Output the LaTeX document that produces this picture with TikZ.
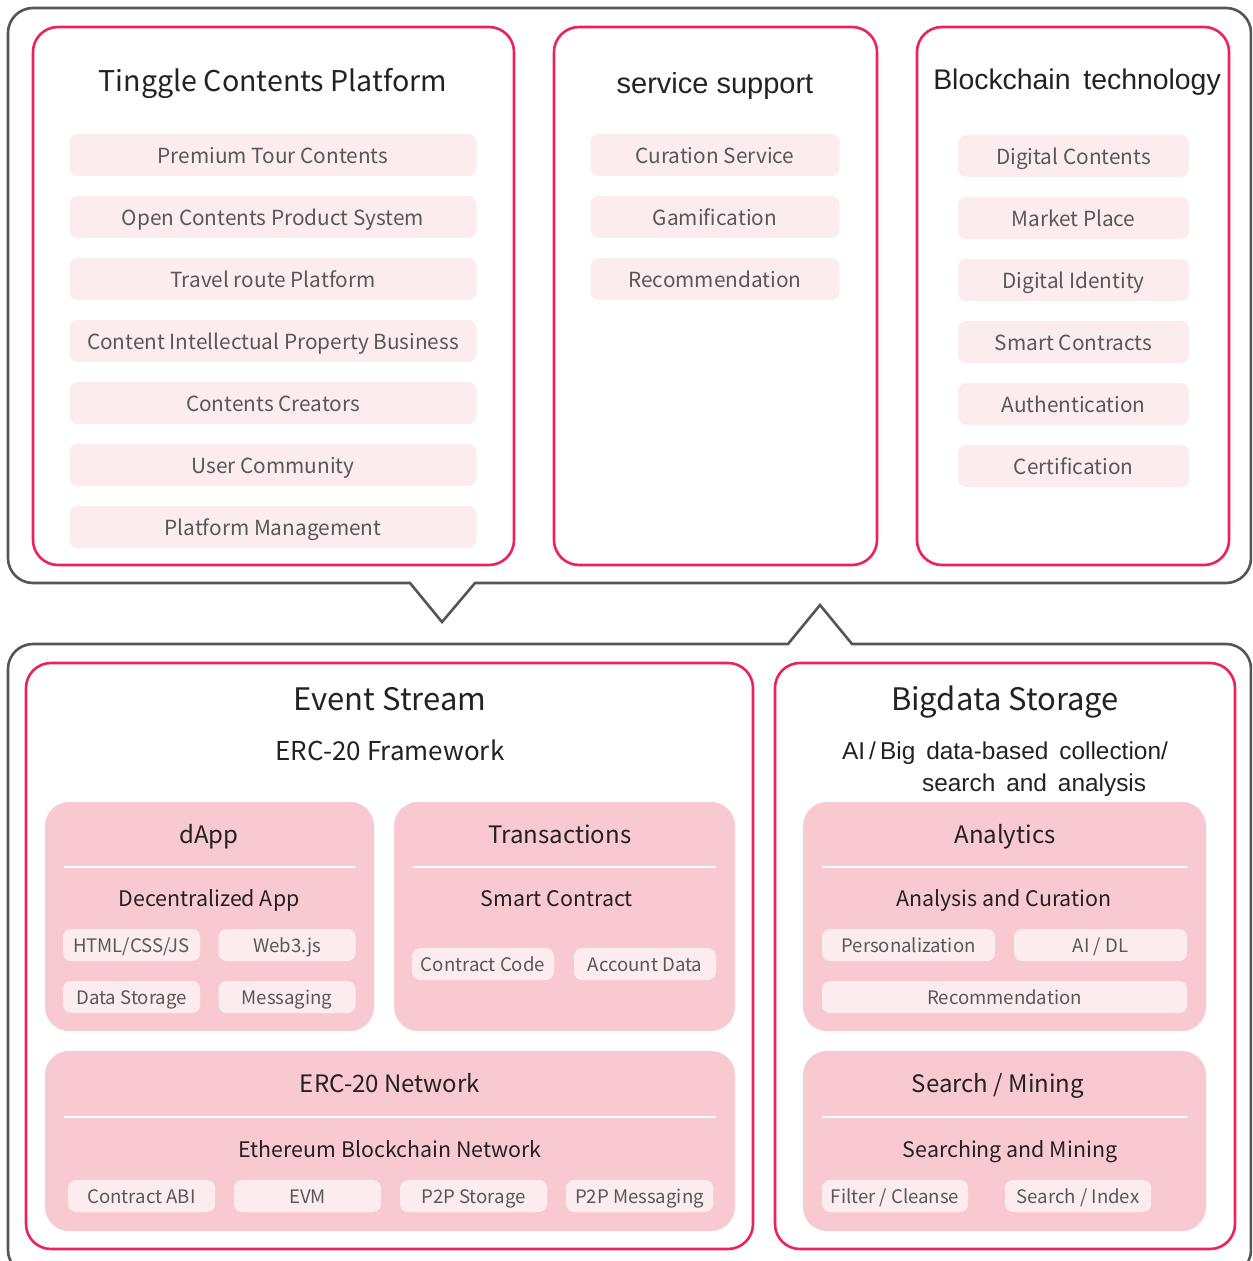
\documentclass[tikz,border=0pt]{standalone}
\usepackage{fontspec}
\setmainfont{Noto Sans CJK KR}
\newfontfamily\arialfont{Liberation Sans}
\usetikzlibrary{positioning}

\definecolor{framegray}{RGB}{85,85,85}
\definecolor{framepink}{RGB}{236,34,94}
\definecolor{blockpink}{RGB}{248,201,208}
\definecolor{itempink}{RGB}{252,236,238}
\definecolor{titletext}{RGB}{34,34,34}
\definecolor{itemtext}{RGB}{88,88,88}

\begin{document}
\begin{tikzpicture}[
    x=0.5pt, y=-0.5pt,
    node distance=10pt,
    every node/.style={outer sep=0pt},
    outer/.style={draw=framegray, line width=1.3pt},
    panel/.style={draw=framepink, line width=1.3pt, rounded corners=12.5pt},
    block/.style={fill=blockpink, rounded corners=12pt},
    rule/.style={draw=white, line width=1pt},
    title/.style={text=titletext, font=\fontsize{14.3}{17}\selectfont, text height=14.5pt, text depth=3pt},
    bigtitle/.style={title, font=\fontsize{15.5}{18}\selectfont},
    arialtitle/.style={text=titletext, font=\arialfont\fontsize{14.5}{17}\selectfont, text height=12.5pt, text depth=3pt},
    sub/.style={text=titletext, font=\fontsize{13}{16}\selectfont, text height=12.5pt, text depth=2.5pt},
    head/.style={text=titletext, font=\fontsize{12}{14}\selectfont, text height=12pt, text depth=2.5pt},
    subhead/.style={text=titletext, font=\fontsize{10.7}{13}\selectfont, text height=11pt, text depth=2.2pt},
    item/.style={fill=itempink, rounded corners=4pt, text=itemtext, inner sep=0pt,
        minimum height=21pt, text height=10.6pt, text depth=2.2pt, font=\fontsize{10.4}{12}\selectfont},
    tcitem/.style={item, minimum width=203.5pt},
    ssitem/.style={item, minimum width=124.5pt},
    bcitem/.style={item, minimum width=115.5pt},
    tag/.style={item, minimum height=16pt, text height=9.8pt, text depth=2pt, font=\fontsize{9.3}{11}\selectfont}
]
    \useasboundingbox (0,0) rectangle (1252,1261);
    \clip (0,0) rectangle (1252,1261);

    % outer frames with the two notches
    \draw[outer] (600,583) [rounded corners=12.5pt] -- (1251,583) -- (1251,8) -- (8,8) -- (8,583)
        [sharp corners] -- (410,583) -- (442,622) -- (475,583) -- (600,583);
    \draw[outer] (600,644) [rounded corners=12.5pt] -- (8,644) -- (8,1275) -- (1251,1275) -- (1251,644)
        [sharp corners] -- (852,644) -- (820,605) -- (788,644) -- (600,644);

    % top panels
    \draw[panel] (33,27) rectangle (514,565);
    \draw[panel] (554,27) rectangle (877,565);
    \draw[panel] (917,27) rectangle (1229,565);

    \node[title] (tinggle) at (273,80) {Tinggle Contents Platform};
    \node[tcitem] (tc1) at (273,155) {Premium Tour Contents};
    \node[tcitem, below=of tc1] (tc2) {Open Contents Product System};
    \node[tcitem, below=of tc2] (tc3) {Travel route Platform};
    \node[tcitem, below=of tc3] (tc4) {Content Intellectual Property Business};
    \node[tcitem, below=of tc4] (tc5) {Contents Creators};
    \node[tcitem, below=of tc5] (tc6) {User Community};
    \node[tcitem, below=of tc6] (tc7) {Platform Management};

    \node[arialtitle] (service) at (715,84) {service support};
    \node[ssitem] (ss1) at (715,155) {Curation Service};
    \node[ssitem, below=of ss1] (ss2) {Gamification};
    \node[ssitem, below=of ss2] (ss3) {Recommendation};

    \node[arialtitle, font=\arialfont\fontsize{14.2}{17}\selectfont] (chain) at (1077,80) {Blockchain\hspace{0.45em}technology};
    \node[bcitem] (bc1) at (1073.5,156) {Digital Contents};
    \node[bcitem, below=of bc1] (bc2) {Market Place};
    \node[bcitem, below=of bc2] (bc3) {Digital Identity};
    \node[bcitem, below=of bc3] (bc4) {Smart Contracts};
    \node[bcitem, below=of bc4] (bc5) {Authentication};
    \node[bcitem, below=of bc5] (bc6) {Certification};

    % bottom panels
    \draw[panel] (26,663) rectangle (753,1249);
    \draw[panel] (775,663) rectangle (1235,1249);

    \node[bigtitle] (event) at (390,699) {Event Stream};
    \node[sub] (framework) at (390,750) {ERC-20 Framework};

    \fill[block] (45,802) rectangle (374,1031);
    \node[head] (dapp) at (209,834) {dApp};
    \draw[rule] (64,867) -- (355,867);
    \node[subhead] (decentral) at (209,898) {Decentralized App};
    \node[tag, minimum width=68.5pt] (html) at (131.5,945) {HTML/CSS/JS};
    \node[tag, minimum width=68.5pt] (web3) at (287,945) {Web3.js};
    \node[tag, minimum width=68.5pt] (datastore) at (131.5,997) {Data Storage};
    \node[tag, minimum width=68.5pt] (messaging) at (287,997) {Messaging};

    \fill[block] (394,802) rectangle (735,1031);
    \node[head] (trans) at (560,834) {Transactions};
    \draw[rule] (413,867) -- (716,867);
    \node[subhead] (smart) at (557,898) {Smart Contract};
    \node[tag, minimum width=71pt] (code) at (483,964) {Contract Code};
    \node[tag, minimum width=71pt] (account) at (645,964) {Account Data};

    \fill[block] (45,1051) rectangle (735,1231);
    \node[head] (network) at (390,1083) {ERC-20 Network};
    \draw[rule] (64,1117) -- (716,1117);
    \node[subhead] (ethereum) at (390,1149) {Ethereum Blockchain Network};
    \node[tag, minimum width=73.5pt] (abi) at (141.5,1196) {Contract ABI};
    \node[tag, minimum width=73.5pt] (evm) at (307.5,1196) {EVM};
    \node[tag, minimum width=73.5pt] (p2ps) at (473.5,1196) {P2P Storage};
    \node[tag, minimum width=73.5pt] (p2pm) at (639.5,1196) {P2P Messaging};

    \node[bigtitle] (bigdata) at (1005,699) {Bigdata Storage};
    \node[text=titletext, font=\arialfont\fontsize{12.2}{16}\selectfont, align=left] (aibig) at (1005,769)
        {AI\,/\,Big\hspace{0.45em}data-based\hspace{0.45em}collection/\\\hspace{40pt}search\hspace{0.45em}and\hspace{0.45em}analysis};

    \fill[block] (803,802) rectangle (1206,1031);
    \node[head] (analytics) at (1005,834) {Analytics};
    \draw[rule] (822,867) -- (1187,867);
    \node[subhead] (curation) at (1004,898) {Analysis and Curation};
    \node[tag, minimum width=86.5pt] (person) at (908.5,945) {Personalization};
    \node[tag, minimum width=86.5pt] (aidl) at (1100.5,945) {AI / DL};
    \node[tag, minimum width=182.5pt] (recom) at (1004.5,997) {Recommendation};

    \fill[block] (803,1051) rectangle (1206,1231);
    \node[head] (search) at (998,1083) {Search / Mining};
    \draw[rule] (822,1117) -- (1187,1117);
    \node[subhead] (mining) at (1010,1149) {Searching and Mining};
    \node[tag, minimum width=73pt] (filter) at (895,1196) {Filter / Cleanse};
    \node[tag, minimum width=73pt] (index) at (1078,1196) {Search / Index};
\end{tikzpicture}
\end{document}
